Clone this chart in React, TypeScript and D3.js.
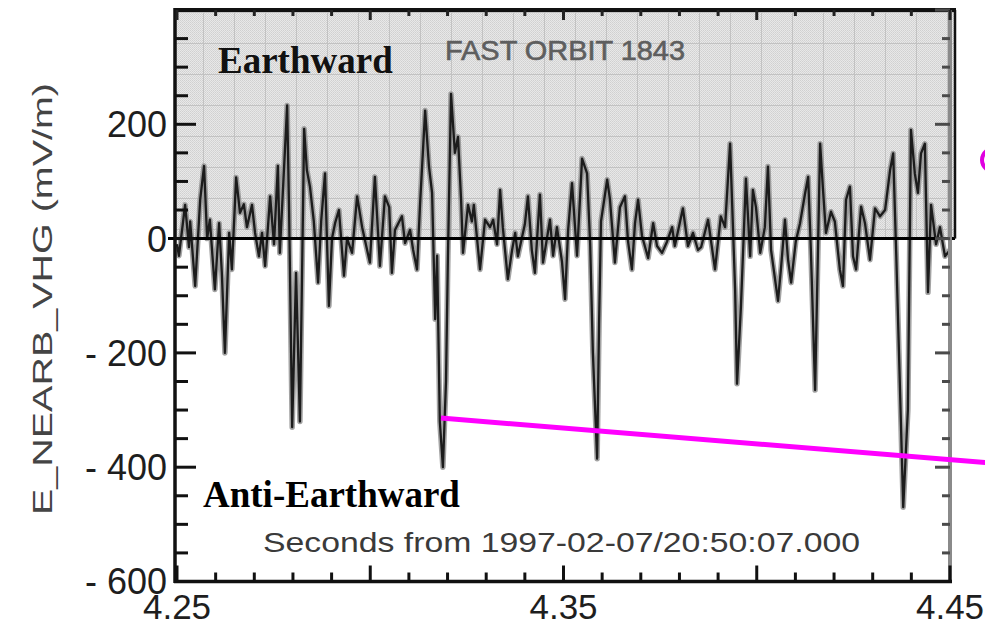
import React from "react";
import * as d3 from "d3";

// Time (seconds from 1997-02-07/20:50:07.000) and E_NEARB_VHG (mV/m) extrema of the trace
const times: number[] = [
  4.2500, 4.2505, 4.2521, 4.2531, 4.2534, 4.2547, 4.2560, 4.2570, 4.2578, 4.2585,
  4.2598, 4.2609, 4.2616, 4.2624, 4.2635, 4.2642, 4.2653, 4.2663, 4.2673, 4.2681,
  4.2694, 4.2702, 4.2712, 4.2720, 4.2728, 4.2741, 4.2751, 4.2761, 4.2766, 4.2785,
  4.2790, 4.2798, 4.2808, 4.2818, 4.2829, 4.2836, 4.2844, 4.2854, 4.2865, 4.2873,
  4.2883, 4.2893, 4.2901, 4.2909, 4.2919, 4.2932, 4.2940, 4.2953, 4.2966, 4.2979,
  4.2999, 4.3012, 4.3025, 4.3038, 4.3049, 4.3056, 4.3064, 4.3082, 4.3090, 4.3103,
  4.3111, 4.3121, 4.3129, 4.3142, 4.3152, 4.3160, 4.3168, 4.3173, 4.3180, 4.3188,
  4.3196, 4.3201, 4.3209, 4.3219, 4.3227, 4.3235, 4.3240, 4.3253, 4.3263, 4.3268,
  4.3284, 4.3297, 4.3310, 4.3318, 4.3328, 4.3336, 4.3343, 4.3356, 4.3367, 4.3375,
  4.3382, 4.3400, 4.3408, 4.3418, 4.3426, 4.3439, 4.3447, 4.3465, 4.3473, 4.3483,
  4.3496, 4.3504, 4.3512, 4.3522, 4.3535, 4.3548, 4.3561, 4.3569, 4.3576, 4.3587,
  4.3592, 4.3597, 4.3613, 4.3620, 4.3633, 4.3646, 4.3659, 4.3667, 4.3677, 4.3685,
  4.3693, 4.3703, 4.3719, 4.3732, 4.3742, 4.3755, 4.3768, 4.3781, 4.3788, 4.3809,
  4.3822, 4.3835, 4.3848, 4.3856, 4.3874, 4.3892, 4.3907, 4.3918, 4.3931, 4.3944,
  4.3949, 4.3959, 4.3972, 4.3983, 4.3990, 4.3998, 4.4009, 4.4021, 4.4029, 4.4037,
  4.4055, 4.4063, 4.4073, 4.4081, 4.4089, 4.4101, 4.4112, 4.4125, 4.4133, 4.4140,
  4.4151, 4.4156, 4.4164, 4.4171, 4.4179, 4.4192, 4.4202, 4.4215, 4.4223, 4.4231,
  4.4241, 4.4249, 4.4257, 4.4270, 4.4280, 4.4293, 4.4306, 4.4319, 4.4332, 4.4345,
  4.4353, 4.4361, 4.4368, 4.4379, 4.4391, 4.4399, 4.4409, 4.4417, 4.4425, 4.4435,
  4.4443, 4.4451, 4.4464, 4.4474, 4.4487, 4.4500,
];
const values: number[] = [
  -10, -30, 59, -15, 30, -83, 68, 127, 0, 33,
  -89, 27, -60, -200, 10, -54, 107, 45, 60, 20,
  59, 10, -31, 10, -48, 74, -10, 127, -25, 233,
  50, -330, -60, -320, 192, 120, 91, 30, -77, 30,
  114, -118, 0, 27, 50, -65, 0, -25, 74, 20,
  -42, 108, -48, 74, 55, -60, 15, 39, -8, 15,
  -20, -54, 62, 224, 126, 80, -141, -30, -320, -400,
  -250, -30, 253, 150, 178, 68, -25, 59, 30, 59,
  -54, 33, 20, 33, -10, 85, 20, -71, -20, 10,
  -31, 25, 74, -20, -60, 77, -42, 33, -30, 20,
  -40, -106, 15, 97, -30, 140, 114, -10, -200, -385,
  -150, 30, 103, 70, -42, 55, 74, -5, -54, 27,
  68, 5, -34, 27, -13, -25, -5, 20, -13, 53,
  -13, 10, -20, -15, 33, -54, 39, 20, 166, -89,
  -254, -120, 105, -31, 85, 55, -25, 20, 126, -20,
  -109, -50, 33, -37, -77, -5, 27, 79, 108, -20,
  -265, -100, 166, 90, 10, 47, 30, -54, -83, 68,
  91, -31, -54, 56, 27, -37, 53, 39, 50, 120,
  149, -30, -200, -470, -300, 190, 114, 80, 149, 166,
  -94, 59, -10, 20, -31, -20,
];

const yTickValues: number[] = [-600, -550, -500, -450, -400, -350, -300, -250, -200, -150, -100, -50, 0, 50, 100, 150, 200, 250, 300, 350, 400];
const yLabelValues: number[] = [200, 0, -200, -400, -600];
const xTickValues: number[] = [4.25, 4.26, 4.27, 4.28, 4.29, 4.30, 4.31, 4.32, 4.33, 4.34, 4.35, 4.36, 4.37, 4.38, 4.39, 4.40, 4.41, 4.42, 4.43, 4.44, 4.45];
const xMajorValues: number[] = [4.25, 4.30, 4.35, 4.40, 4.45];
const xLabelValues: number[] = [4.25, 4.35, 4.45];

const annotationTimes: number[] = [4.3183, 4.4591];
const annotationValues: number[] = [-314, -392];

const W = 985;
const H = 624;

export default function App() {
  const x = d3.scaleLinear().domain([4.25, 4.45]).range([177, 950]);
  const y = d3.scaleLinear().domain([-600, 400]).range([581.5, 10]);

  const line = d3
    .line<number>()
    .x((_, i) => x(times[i]))
    .y((d) => y(d));
  const tracePath = line(values) || "";

  const annLine = d3
    .line<number>()
    .x((_, i) => x(annotationTimes[i]))
    .y((d) => y(d));

  const left = x(4.25) - 2;
  const right = x(4.45);
  const top = y(400);
  const bottom = y(-600);
  const zero = y(0);
  const boxRight = right + 5;

  const isMajorY = (v: number) => v % 200 === 0;
  const isMajorX = (v: number) => xMajorValues.some((m) => Math.abs(m - v) < 1e-6);
  const fmtY = (v: number) => (v < 0 ? "- " + Math.abs(v) : String(v));

  const sans = "'Liberation Sans', Arial, Helvetica, sans-serif";
  const serif = "'Liberation Serif', 'Times New Roman', serif";

  return (
    <svg
      width={W}
      height={H}
      viewBox={`0 0 ${W} ${H}`}
      style={{ position: "absolute", left: 0, top: 0, background: "#fff" }}
    >
      <defs>
        <pattern id="dots" width="2" height="2" patternUnits="userSpaceOnUse">
          <rect width="2" height="2" fill="#e8e8e8" />
          <rect width="1" height="1" fill="#d0d0d0" />
          <rect x="1" y="1" width="1" height="1" fill="#d6d6d6" />
        </pattern>
        <pattern id="grid" width="31" height="31" x="17" y="12" patternUnits="userSpaceOnUse">
          <rect width="31" height="31" fill="url(#dots)" />
          <line x1="0" y1="0.5" x2="31" y2="0.5" stroke="#c2c2c2" strokeWidth="1" />
          <line x1="0.5" y1="0" x2="0.5" y2="31" stroke="#c2c2c2" strokeWidth="1" />
        </pattern>
      </defs>

      {/* shaded Earthward region */}
      <rect x={left} y={top} width={boxRight - left} height={zero - top} fill="url(#grid)" />

      {/* labels inside plot */}
      <text x={218} y={73} fontFamily={serif} fontWeight="bold" fontSize={37} fill="#111">
        Earthward
      </text>
      <text
        x={445}
        y={60}
        fontFamily={sans}
        fontSize={28}
        fill="#5e5e5e"
        stroke="#5e5e5e"
        strokeWidth={0.6}
        textLength={240}
        lengthAdjust="spacingAndGlyphs"
      >
        FAST ORBIT 1843
      </text>

      {/* trace */}
      <path d={tracePath} fill="none" stroke="#8c8c8c" strokeWidth={5.5} strokeLinejoin="round" opacity={0.8} />
      <path d={tracePath} fill="none" stroke="#1c1c1c" strokeWidth={2.3} strokeLinejoin="round" />

      {/* zero line */}
      <line x1={left - 7} x2={boxRight} y1={zero} y2={zero} stroke="#000" strokeWidth={3} />

      {/* box borders */}
      <line x1={left} x2={boxRight + 1} y1={top} y2={top} stroke="#111" strokeWidth={4} />
      <line x1={boxRight} x2={boxRight} y1={top} y2={zero} stroke="#111" strokeWidth={2.5} />

      {/* right axis (gray) */}
      <line x1={right} x2={right} y1={top} y2={bottom + 1} stroke="#8a8a8a" strokeWidth={4} />
      {yTickValues.map((v) => (
        <line
          key={"ry" + v}
          x1={right - (isMajorY(v) ? 15 : 8)}
          x2={right}
          y1={y(v)}
          y2={y(v)}
          stroke="#4a4a4a"
          strokeWidth={3}
        />
      ))}

      {/* left axis */}
      <line x1={left} x2={left} y1={top - 2} y2={bottom + 1.5} stroke="#111" strokeWidth={3.5} />
      {yTickValues.map((v) => (
        <line
          key={"ly" + v}
          x1={left}
          x2={left + (isMajorY(v) ? 21 : 13)}
          y1={y(v)}
          y2={y(v)}
          stroke="#111"
          strokeWidth={3}
        />
      ))}
      {yLabelValues.map((v) => (
        <text
          key={"yl" + v}
          x={left - 8}
          y={y(v)}
          dy="0.36em"
          textAnchor="end"
          fontFamily={sans}
          fontSize={36}
          fill="#1e1e1e"
        >
          {fmtY(v)}
        </text>
      ))}

      {/* bottom axis */}
      <line x1={left - 1} x2={right + 2} y1={bottom} y2={bottom} stroke="#111" strokeWidth={3.5} />
      {xTickValues.map((v) => (
        <line
          key={"bx" + v}
          x1={x(v)}
          x2={x(v)}
          y1={bottom}
          y2={bottom - (isMajorX(v) ? 16 : 9)}
          stroke="#111"
          strokeWidth={3}
        />
      ))}
      {xLabelValues.map((v) => (
        <text
          key={"xl" + v}
          x={x(v)}
          y={619}
          textAnchor="middle"
          fontFamily={sans}
          fontSize={35}
          fill="#1e1e1e"
        >
          {v.toFixed(2)}
        </text>
      ))}

      {/* top axis ticks */}
      {xTickValues.map((v) => (
        <line
          key={"tx" + v}
          x1={x(v)}
          x2={x(v)}
          y1={top}
          y2={top + (isMajorX(v) ? 10 : 6)}
          stroke="#222"
          strokeWidth={3}
        />
      ))}

      {/* bottom texts */}
      <text x={203} y={507} fontFamily={serif} fontWeight="bold" fontSize={37} fill="#000">
        Anti-Earthward
      </text>
      <text
        x={263}
        y={552}
        fontFamily={sans}
        fontSize={27}
        fill="#3a3a3a"
        textLength={597}
        lengthAdjust="spacingAndGlyphs"
      >
        Seconds from 1997-02-07/20:50:07.000
      </text>

      {/* y axis title */}
      <text
        transform={`translate(52, 299) rotate(-90)`}
        textAnchor="middle"
        fontFamily={sans}
        fontSize={28}
        fill="#444"
        textLength={432}
        lengthAdjust="spacingAndGlyphs"
      >
        E_NEARB_VHG (mV/m)
      </text>

      {/* magenta annotation */}
      <path d={annLine(annotationValues) || ""} fill="none" stroke="#ff00ff" strokeWidth={5} />
      <ellipse cx={1001} cy={160} rx={19} ry={14} fill="none" stroke="#e000e0" strokeWidth={4} />
    </svg>
  );
}
